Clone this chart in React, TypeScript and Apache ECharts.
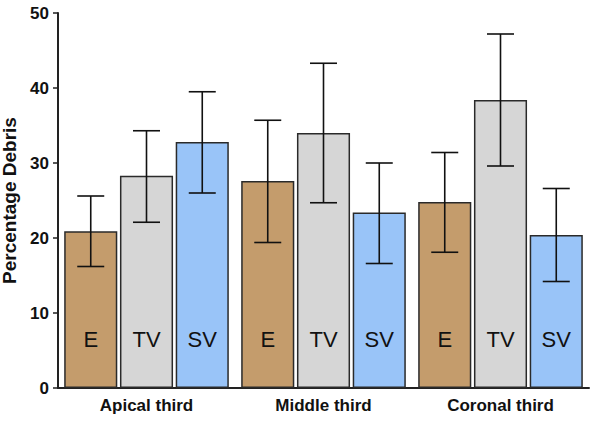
import React, { useEffect, useRef } from "react";
import * as echarts from "echarts";

const categories = ["Apical third", "Middle third", "Coronal third"];
const seriesNames = ["E", "TV", "SV"];
const eMeans = [20.9, 27.6, 24.8];
const eLow = [16.2, 19.4, 18.1];
const eHigh = [25.6, 35.7, 31.4];
const tvMeans = [28.3, 34.0, 38.4];
const tvLow = [22.1, 24.7, 29.6];
const tvHigh = [34.3, 43.3, 47.2];
const svMeans = [32.8, 23.4, 20.4];
const svLow = [26.0, 16.6, 14.2];
const svHigh = [39.5, 30.0, 26.6];
const yTicks = [0, 10, 20, 30, 40, 50];

const colors = ["#C49C6C", "#D6D6D6", "#99C4F8"];
const FONT = "Liberation Sans, Arial, sans-serif";

export default function App() {
  const ref = useRef<HTMLDivElement>(null);
  useEffect(() => {
    if (!ref.current) return;
    const chart = echarts.init(ref.current, undefined, { renderer: "svg" });
    const means = [eMeans, tvMeans, svMeans];
    const lows = [eLow, tvLow, svLow];
    const highs = [eHigh, tvHigh, svHigh];
    const catGap = 0.07;
    const barGap = 0.05;

    const barSeries = seriesNames.map((name, i) => ({
      type: "bar",
      name,
      data: means[i],
      barGap: "5%",
      barCategoryGap: "7%",
      itemStyle: { color: colors[i], borderColor: "#2a2a2a", borderWidth: 1.5 },
      label: {
        show: true,
        position: "insideBottom",
        distance: 38,
        formatter: name,
        color: "#111",
        fontSize: 22,
        fontFamily: FONT,
      },
      z: 2,
    }));

    const errSeries = seriesNames.map((name, i) => ({
      type: "custom",
      name: name + "-err",
      data: categories.map((_, k) => [k, lows[i][k], highs[i][k]]),
      z: 5,
      renderItem: (params: any, api: any) => {
        const k = api.value(0);
        const lo = api.coord([k, api.value(1)]);
        const hi = api.coord([k, api.value(2)]);
        const catW = api.size([1, 0])[0];
        const groupW = catW * (1 - catGap);
        const bw = groupW / (3 + 2 * barGap);
        const x = lo[0] + (i - 1) * bw * (1 + barGap);
        const cap = 13.5;
        const style = { stroke: "#111", lineWidth: 1.6 };
        return {
          type: "group",
          children: [
            { type: "line", shape: { x1: x, y1: hi[1], x2: x, y2: lo[1] }, style },
            { type: "line", shape: { x1: x - cap, y1: hi[1], x2: x + cap, y2: hi[1] }, style },
            { type: "line", shape: { x1: x - cap, y1: lo[1], x2: x + cap, y2: lo[1] }, style },
          ],
        };
      },
    }));

    chart.setOption({
      animation: false,
      grid: { left: 58, right: 11, top: 13, bottom: 38, containLabel: false, outerBoundsMode: "none" },
      xAxis: {
        type: "category",
        data: categories,
        axisLine: { lineStyle: { color: "#222", width: 2 } },
        axisTick: { alignWithLabel: true, length: 5, lineStyle: { color: "#222", width: 1.5 } },
        axisLabel: { color: "#111", fontWeight: "bold", fontSize: 17, fontFamily: FONT, margin: 9 },
      },
      yAxis: {
        type: "value",
        min: yTicks[0],
        max: yTicks[yTicks.length - 1],
        interval: 10,
        name: "Percentage Debris",
        nameLocation: "middle",
        nameGap: 34,
        nameTextStyle: { color: "#111", fontWeight: "bold", fontSize: 19, fontFamily: FONT },
        axisLine: { show: true, lineStyle: { color: "#222", width: 2 } },
        axisTick: { show: true, length: 5, lineStyle: { color: "#222", width: 1.5 } },
        axisLabel: { color: "#111", fontWeight: "bold", fontSize: 17, fontFamily: FONT, margin: 9 },
        splitLine: { show: false },
      },
      series: [...barSeries, ...errSeries],
    });
    return () => chart.dispose();
  }, []);
  return <div ref={ref} style={{ width: 600, height: 426, position: "absolute", left: 0, top: 0, background: "#fff" }} />;
}
